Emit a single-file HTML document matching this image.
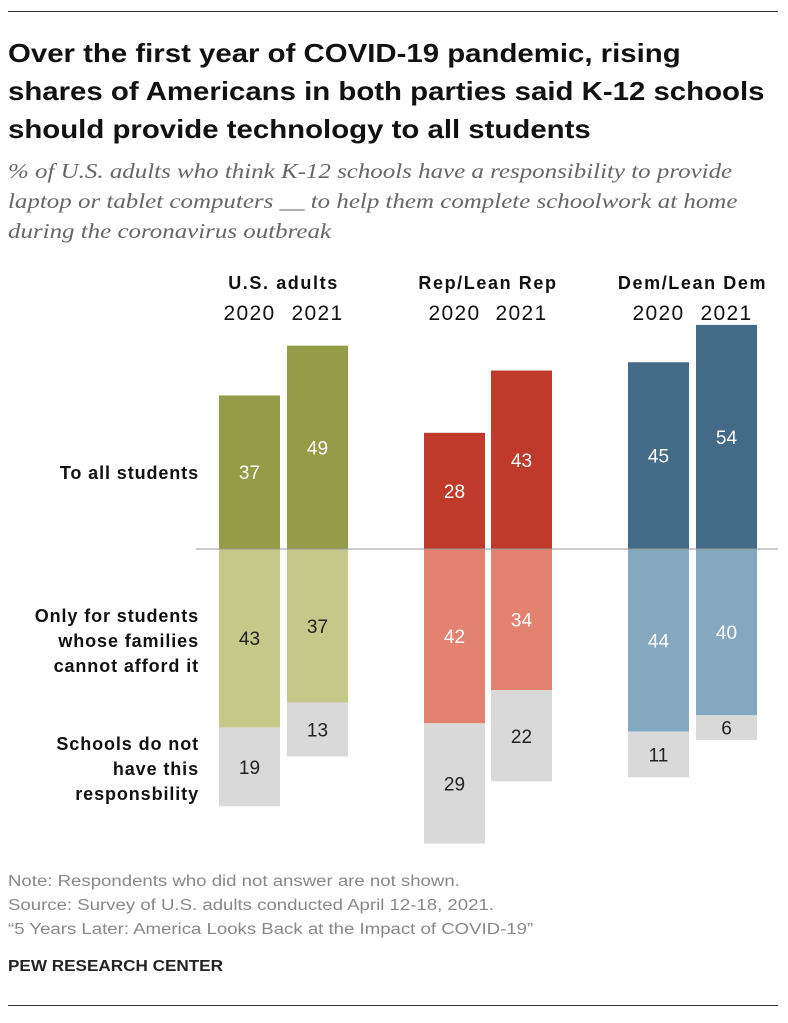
<!DOCTYPE html>
<html><head><meta charset="utf-8"><style>
body{margin:0;background:#fff;width:788px;height:1023px;overflow:hidden;font-family:"Liberation Sans",sans-serif}
.t{position:absolute;white-space:nowrap;transform-origin:0 0}
</style></head><body>
<div style="position:absolute;left:8px;top:11px;width:770px;height:1px;background:#333"></div>
<div class="t" style="left:8px;top:34px;font-size:26px;font-weight:bold;line-height:38px;color:#111;transform:scaleX(1.13)">Over the first year of COVID-19 pandemic, rising<br>shares of Americans in both parties said K-12 schools<br>should provide technology to all students</div>
<div class="t" style="left:8px;top:156px;font-family:'Liberation Serif',serif;font-style:italic;font-size:21.5px;line-height:30px;color:#666;transform:scaleX(1.16)">% of U.S. adults who think K-12 schools have a responsibility to provide<br>laptop or tablet computers __ to help them complete schoolwork at home<br>during the coronavirus outbreak</div>
<svg style="position:absolute;left:0;top:0" width="788" height="1023"></svg>
<div class="t" style="left:8px;top:870px;font-size:15.5px;line-height:24px;color:#888;transform:scaleX(1.2)">Note: Respondents who did not answer are not shown.<br>Source: Survey of U.S. adults conducted April 12-18, 2021.<br>“5 Years Later: America Looks Back at the Impact of COVID-19”</div>
<div class="t" style="left:8px;top:958px;font-size:16px;font-weight:bold;color:#222;transform:scaleX(1.07)">PEW RESEARCH CENTER</div>
<div style="position:absolute;left:8px;top:1005px;width:770px;height:1px;background:#333"></div>
<script>
const groups=["U.S. adults","Rep/Lean Rep","Dem/Lean Dem"];
const years=["2020","2021"];
const allStudents=[37,49,28,43,45,54];
const onlyNeedy=[43,37,42,34,44,40];
const noResp=[19,13,29,22,11,6];
const rowLabels=[["To all students"],["Only for students","whose families","cannot afford it"],["Schools do not","have this","responsbility"]];
const ns="http://www.w3.org/2000/svg";
const svg=document.querySelector("svg");
const base=549,k=4.15,bw=61;
const barX=[219,287,424,491,628,696];
const dark=["#949c48","#949c48","#bf3a2b","#bf3a2b","#436a87","#436a87"];
const light=["#c4c98a","#c4c98a","#e48272","#e48272","#85a8c1","#85a8c1"];
const lightTxt=["#222","#222","#fff","#fff","#fff","#fff"];
const y=v=>v*k;
function el(tag,a,txt){const e=document.createElementNS(ns,tag);for(const q in a)e.setAttribute(q,a[q]);if(txt!=null)e.textContent=txt;svg.appendChild(e);return e;}
function rect(x,yy,h,fill,name){const r=el("rect",{x:x,y:yy,width:bw,height:h,fill:fill});}
function txt(x,yy,s,opt,name){const t=el("text",Object.assign({x:x,y:yy,"font-size":19,"text-anchor":"middle","font-family":"Liberation Sans, sans-serif"},opt),s);}
for(let i=0;i<6;i++){
 const x=barX[i],cx=x+bw/2;
 const h1=y(allStudents[i]);rect(x,base-h1,h1,dark[i],"bar-all-"+i);
 txt(cx,base-h1/2+7,allStudents[i],{fill:"#fff"},"value-all-"+i);
 const h2=y(onlyNeedy[i]);rect(x,base,h2,light[i],"bar-needy-"+i);
 txt(cx,base+h2/2+7,onlyNeedy[i],{fill:lightTxt[i]},"value-needy-"+i);
 const h3=y(noResp[i]);rect(x,base+h2,h3,"#d9d9d9","bar-none-"+i);
 txt(cx,base+h2+h3/2+7,noResp[i],{fill:"#222"},"value-none-"+i);
 txt(cx,320,years[i%2],{fill:"#111","font-size":21,"letter-spacing":1.3},"year-label-"+i);
}
for(let g=0;g<3;g++){const cx=(barX[2*g]+barX[2*g+1]+bw)/2;txt(cx,289,groups[g],{fill:"#111","font-size":18,"font-weight":"bold","letter-spacing":1.6},"group-label-"+g);}
const bl=el("line",{x1:196,x2:778,y1:base,y2:base,stroke:"#999","stroke-width":1});
const rowY=[479,622,750];
rowLabels.forEach((ls,r)=>ls.forEach((s,j)=>txt(199,rowY[r]+j*25,s,{fill:"#111","font-size":18,"font-weight":"bold","text-anchor":"end","letter-spacing":0.9},"row-label-"+r+"-"+j)));
</script>
</body></html>
